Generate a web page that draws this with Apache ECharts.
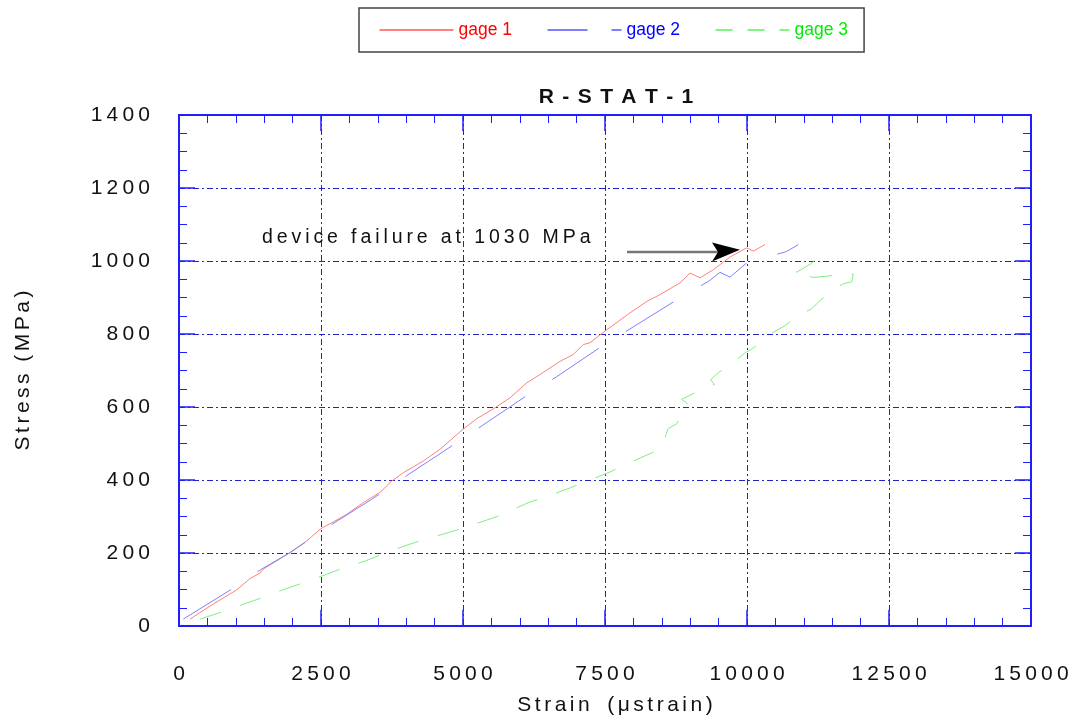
<!DOCTYPE html>
<html>
<head>
<meta charset="utf-8">
<script src="https://cdn.jsdelivr.net/npm/echarts@6/dist/echarts.min.js"></script>
<style>
  html, body { margin: 0; padding: 0; background: #ffffff; }
  #chart { width: 1085px; height: 721px; }
</style>
</head>
<body>
<div id="chart"></div>
<script>
// Strain (microstrain) and stress (MPa) readings for the three gages
const gage1Strain = [194, 600, 1016, 1250, 1426, 1485, 1954, 2248, 2500, 2717, 2952, 3245, 3539, 3744, 3949, 4301, 4595, 5000, 5241, 5534, 5827, 6121, 6356, 6708, 6942, 7118, 7236, 7500, 7940, 8234, 8468, 8820, 8996, 9173, 9407, 9701, 9995, 10111, 10317];
const gage1Stress = [19, 60, 99, 130, 145, 156, 201, 233, 267, 285, 306, 338, 366, 397, 420, 452, 484, 539, 568, 595, 625, 666, 689, 725, 744, 771, 776, 808, 858, 889, 908, 940, 967, 954, 976, 1011, 1036, 1027, 1045];

const gage2Strain = [76, 928, 1456, 1954, 2746, 3392, 4067, 4889, 5347, 6168, 6649, 7459, 7940, 8820, 9319, 9525, 9701, 9995, 10698, 10903];
const gage2Stress = [19, 101, 156, 201, 284, 347, 418, 502, 550, 636, 683, 768, 814, 899, 944, 969, 956, 995, 1026, 1045];

const gage3Strain = [370, 769, 1121, 1456, 1826, 2201, 2553, 2911, 3257, 3586, 4020, 4243, 5000, 5600, 6150, 6532, 6896, 7236, 7588, 7940, 8333, 8498, 8526, 8614, 8762, 8808, 8773, 8967, 8850, 9055, 9424, 9361, 9495, 9806, 9982, 10065, 10357, 10463, 10651, 10933, 11139, 11227, 11449, 11696, 11843, 11871, 11549, 11180, 10815, 11121, 11285];
const gage3Stress = [19, 39, 59, 77, 99, 119, 139, 160, 177, 197, 222, 233, 268, 300, 338, 358, 379, 400, 422, 448, 475, 489, 504, 541, 554, 568, 573, 607, 621, 637, 662, 675, 694, 728, 750, 757, 789, 805, 821, 853, 869, 883, 914, 938, 943, 964, 961, 955, 964, 992, 1015];

const gageNames = ['gage 1', 'gage 2', 'gage 3'];
const xTicks = { min: 0, max: 15000, step: 2500 };
const yTicks = { min: 0, max: 1400, step: 200 };

// Failure annotation: arrow from tail to tip, in (strain, stress)
const failureText = 'device failure at 1030 MPa';
const arrowTail = [7887, 1025];
const arrowTip = [9877, 1031];

const FONT = '"Liberation Sans", Arial, Helvetica, sans-serif';
const THIN = '\u2009';
const HAIR2 = '\u200A\u200A';
const spaced = (s, gap) => String(s).split('').join(gap || THIN);
const zip = (xs, ys) => xs.map((x, i) => [x, ys[i]]);

const AXIS_BLUE = '#1e1eff';
const GRID_BLUE = '#2222cc';

function axisBase(extra) {
  return Object.assign({
    type: 'value',
    axisLine: { show: true, onZero: false, lineStyle: { color: AXIS_BLUE, width: 2 } },
    axisTick: { show: true, inside: true, length: 16, lineStyle: { color: AXIS_BLUE, width: 1.5 } },
    minorTick: { show: true, length: 8, lineStyle: { color: AXIS_BLUE, width: 1 } },
    splitLine: { show: false },
    axisLabel: { show: false }
  }, extra);
}

// Legend entries: solid, long-short dash and short dash keys
function legendItem(name, color, dash) {
  return {
    name: name,
    textStyle: { color: color },
    itemStyle: { color: color, opacity: 0, borderWidth: 0 },
    lineStyle: { color: color, width: 1, type: dash, opacity: 1 }
  };
}

const chart = echarts.init(document.getElementById('chart'), null, { renderer: 'canvas' });

chart.setOption({
  backgroundColor: '#ffffff',
  animation: false,
  title: {
    text: spaced('R-STAT-1', THIN + THIN),
    left: 611,
    top: 82,
    textAlign: 'center',
    textStyle: { fontFamily: FONT, fontSize: 21, fontWeight: 'bold', color: '#111' }
  },
  legend: {
    left: 359,
    top: 8,
    padding: [13, 16, 13, 20],
    borderColor: '#444',
    borderWidth: 1.5,
    itemWidth: 74,
    itemHeight: 12,
    itemGap: 35,
    textStyle: { fontFamily: FONT, fontSize: 17.5 },
    data: [
      legendItem(gageNames[0], '#ff0000', 'solid'),
      legendItem(gageNames[1], '#0000ff', [40, 24, 11, 24]),
      legendItem(gageNames[2], '#00ee00', [17, 15])
    ]
  },
  grid: { left: 179, top: 115, width: 852, height: 512, containLabel: false },
  xAxis: [
    axisBase({
      position: 'bottom',
      min: xTicks.min, max: xTicks.max, interval: xTicks.step,
      minorTick: { show: true, splitNumber: 5, length: 8, lineStyle: { color: AXIS_BLUE, width: 1 } },
      splitLine: { show: true, lineStyle: { color: GRID_BLUE, width: 1, type: [6, 3, 2, 3] } },
      axisLabel: {
        show: true, margin: 38, fontFamily: FONT, fontSize: 21, color: '#111',
        showMinLabel: true, showMaxLabel: true,
        formatter: v => spaced(v)
      },
      name: spaced('Strain', HAIR2) + '   ' + spaced('(μstrain)', HAIR2),
      nameLocation: 'middle',
      nameGap: 69,
      nameTextStyle: { fontFamily: FONT, fontSize: 21, color: '#111', padding: [0, 0, 0, 20] }
    }),
    axisBase({
      position: 'top',
      min: xTicks.min, max: xTicks.max, interval: xTicks.step,
      minorTick: { show: true, splitNumber: 5, length: 8, lineStyle: { color: AXIS_BLUE, width: 1 } }
    })
  ],
  yAxis: [
    axisBase({
      position: 'left',
      min: yTicks.min, max: yTicks.max, interval: yTicks.step,
      minorTick: { show: true, splitNumber: 4, length: 8, lineStyle: { color: AXIS_BLUE, width: 1 } },
      splitLine: { show: true, lineStyle: { color: GRID_BLUE, width: 1, type: [6, 3, 2, 3] } },
      axisLabel: {
        show: true, margin: 29, fontFamily: FONT, fontSize: 21, color: '#111',
        showMinLabel: true, showMaxLabel: true,
        formatter: v => spaced(v)
      },
      name: spaced('Stress', HAIR2) + '  ' + spaced('(MPa)', HAIR2),
      nameLocation: 'middle',
      nameGap: 145,
      nameRotate: 90,
      nameTextStyle: { fontFamily: FONT, fontSize: 21, color: '#111' }
    }),
    axisBase({
      position: 'right',
      min: yTicks.min, max: yTicks.max, interval: yTicks.step,
      minorTick: { show: true, splitNumber: 4, length: 8, lineStyle: { color: AXIS_BLUE, width: 1 } }
    })
  ],
  series: [
    {
      name: gageNames[0], type: 'line', xAxisIndex: 0, yAxisIndex: 0,
      data: zip(gage1Strain, gage1Stress),
      showSymbol: false, symbol: 'none', smooth: false,
      lineStyle: { color: '#ff8080', width: 1 }, itemStyle: { color: '#ff0000' },
      z: 3
    },
    {
      name: gageNames[1], type: 'line', xAxisIndex: 0, yAxisIndex: 0,
      data: zip(gage2Strain, gage2Stress),
      showSymbol: false, symbol: 'none', smooth: false,
      lineStyle: { color: '#8080ff', width: 1, type: [56, 32] }, itemStyle: { color: '#0000ff' },
      z: 3
    },
    {
      name: gageNames[2], type: 'line', xAxisIndex: 0, yAxisIndex: 0,
      data: zip(gage3Strain, gage3Stress),
      showSymbol: false, symbol: 'none', smooth: false,
      lineStyle: { color: '#80ee80', width: 1, type: [22, 20] }, itemStyle: { color: '#00ee00' },
      z: 3
    }
  ]
});

// Annotation: label and arrow pointing at the failure point
const tail = chart.convertToPixel({ xAxisIndex: 0, yAxisIndex: 0 }, arrowTail);
const tip = chart.convertToPixel({ xAxisIndex: 0, yAxisIndex: 0 }, arrowTip);
const headLen = 28, headHalf = 9.5, notch = 6;
chart.setOption({
  graphic: [
    {
      type: 'line', z: 50,
      shape: { x1: tail[0], y1: tail[1], x2: tip[0] - headLen + notch, y2: tail[1] },
      style: { stroke: '#777777', lineWidth: 2.5 }
    },
    {
      type: 'polygon', z: 51,
      shape: { points: [
        [tip[0], tip[1]],
        [tip[0] - headLen, tail[1] - headHalf],
        [tip[0] - headLen + notch, tail[1]],
        [tip[0] - headLen, tail[1] + headHalf]
      ] },
      style: { fill: '#000000' }
    },
    {
      type: 'text', z: 52,
      left: 262, top: 228,
      style: { text: spaced(failureText), font: '19.5px ' + FONT, fill: '#111' }
    }
  ]
});
</script>
</body>
</html>
